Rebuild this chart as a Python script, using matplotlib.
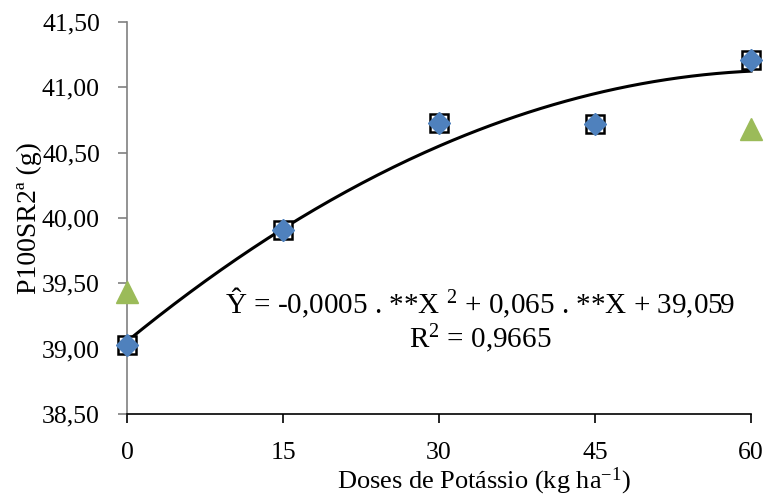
import matplotlib
matplotlib.use("Agg")
import matplotlib.pyplot as plt
import numpy as np

plt.rcParams['font.family'] = ['Liberation Serif', 'DejaVu Serif']
plt.rcParams['mathtext.fontset'] = 'custom'
plt.rcParams['mathtext.rm'] = 'Liberation Serif'
plt.rcParams['mathtext.it'] = 'Liberation Serif:italic'

# doses de potássio (kg/ha)
doses = [0, 15, 30, 45, 60]
# observed means (squares and diamonds overlap)
obsSquare = [39.03, 39.91, 40.73, 40.72, 41.21]
obsDiamond = [39.03, 39.91, 40.73, 40.72, 41.21]
# triangles only visible at the ends
triDoses = [0, 60]
triVals = [39.43, 40.68]

yTicks = [38.5, 39.0, 39.5, 40.0, 40.5, 41.0, 41.5]
yTickLabels = ["38,50", "39,00", "39,50", "40,00", "40,50", "41,00", "41,50"]

fig = plt.figure(figsize=(7.68, 4.97), dpi=100)
ax = fig.add_axes([127 / 768, 1 - 414 / 497, 624 / 768, 392 / 497])

# quadratic trend line fitted to the observed means
coefs = np.polyfit(doses, obsDiamond, 2)
xs = np.linspace(0, 60, 200)
ax.plot(xs, np.polyval(coefs, xs), color="black", lw=2.2, zorder=2)

ax.plot(doses, obsSquare, ls="none", marker="s", ms=13.5, mfc="white",
        mec="black", mew=1.8, zorder=3)
ax.plot(doses, obsDiamond, ls="none", marker="D", ms=11, color="#4F81BD",
        mec="#4F81BD", zorder=4)
ax.plot(triDoses, triVals, ls="none", marker="^", ms=16, color="#9BBB59",
        mec="#9BBB59", zorder=4)

ax.text(34.0, 39.267, "Ŷ = -0,0005 . **X $^{2}$ + 0,065 . **X + 39,059",
        ha="center", va="baseline", fontsize=21)
ax.text(34.0, 39.006, "R$^{2}$ = 0,9665", ha="center", va="baseline", fontsize=21)

ax.set_xlim(0, 60)
ax.set_ylim(38.5, 41.5)
ax.set_xticks(doses)
ax.set_xticklabels([str(d) for d in doses])
ax.set_yticks(yTicks)
ax.set_yticklabels(yTickLabels)
ax.tick_params(labelsize=18.5, length=6.5, width=1.2)
ax.tick_params(axis="y", colors="#808080", labelcolor="black", pad=13)
ax.tick_params(axis="x", pad=14)

ax.spines["top"].set_visible(False)
ax.spines["right"].set_visible(False)
ax.spines["left"].set_color("#808080")
ax.spines["left"].set_linewidth(1.2)
ax.spines["bottom"].set_linewidth(1.2)

ax.set_ylabel("P100SR2ª (g)", fontsize=20, va="center")
ax.yaxis.set_label_coords((29 - 127) / 624, 0.5)
ax.set_xlabel("Doses de Potássio (kg ha$^{\\mathrm{-1}}$)", fontsize=19, va="baseline")
ax.xaxis.set_label_coords((484 - 127) / 624, (414 - 488) / 392)

for line in ax.lines:
    line.set_clip_on(False)

fig.savefig("out.png", dpi=100)
